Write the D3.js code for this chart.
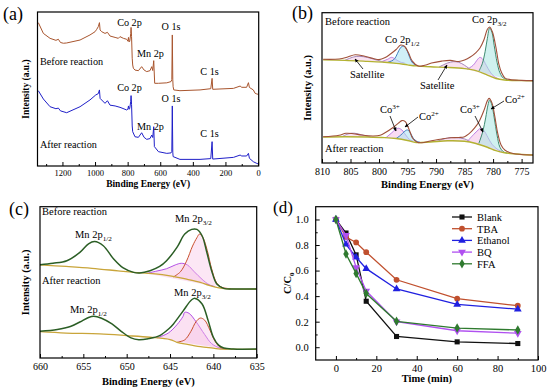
<!DOCTYPE html>
<html>
<head>
<meta charset="utf-8">
<script src="https://cdn.jsdelivr.net/npm/d3@7"></script>
<style>
  body { margin: 0; background: #fff; }
  text { font-family: "Liberation Serif", "Times New Roman", serif; }
</style>
</head>
<body>
<svg id="fig" width="550" height="388"></svg>
<script>
// XPS + quenching figure, four panels

///////////////////////////////////////////////////////////////////////////////
// Data

// (a) survey spectra: [binding energy eV, intensity a.u.]
var surveyBefore = [[1348,93.1],[1317,86.1],[1276,82.9],[1240,81.6],[1225,82.3],[1212,80.2],[1194,79.7],[1174,79.9],
  [1092,81.8],[1031,85.1],[1000,87.2],[990,88.7],[980,90.5],[973,93.1],[969,88.3],[959,87.2],[939,86.1],[924,86.8],
  [908,84.4],[877,83.5],[857,82.9],[847,84.0],[826,82.9],[806,82.3],[798,81.0],[795,83.5],[791,80.5],[787,81.0],
  [781,86.0],[779,90.0],[776,84.0],[772,70.0],[769,65.6],[765,63.5],[755,62.3],[734,61.9],[714,64.5],[699,62.3],
  [683,61.3],[663,61.9],[652,64.5],[646,62.0],[640,68.4],[634,53.7],[611,53.7],[560,54.0],[534,54.8],[529,56.0],
  [526,85.1],[523,56.0],[521,51.5],[517,49.4],[479,48.9],[356,49.4],[290,50.2],[282,56.9],[278,49.8],[151,50.4],
  [110,51.9],[100,51.1],[70,51.1],[59,54.1],[53,51.0],[29,49.4],[18,47.2],[8,46.8],[-2,46.5]];
var surveyAfter = [[1348,48.9],[1317,43.5],[1276,38.5],[1240,37.2],[1225,37.6],[1212,35.8],[1174,34.6],[1092,38.5],
  [1031,42.9],[996,46.1],[980,47.0],[973,49.4],[969,43.9],[939,40.7],[924,42.4],[908,39.5],[877,39.0],[847,38.1],
  [806,36.4],[798,37.0],[795,39.0],[791,36.8],[787,37.5],[781,42.0],[779,45.7],[776,40.0],[772,26.0],[769,22.3],
  [755,19.0],[734,18.6],[714,21.6],[699,18.6],[683,17.3],[663,17.8],[652,20.1],[646,18.5],[640,25.5],[636,12.6],
  [611,9.3],[560,8.2],[534,8.5],[529,9.5],[526,39.0],[523,9.0],[521,6.1],[479,4.3],[356,4.3],[290,4.8],[282,15.8],
  [278,4.5],[151,5.6],[110,7.1],[100,6.5],[70,6.5],[59,8.2],[53,5.0],[29,2.8],[8,1.7],[-2,1.3]];
var surveyTicks = [1200, 1000, 800, 600, 400, 200, 0];

// (b) Co 2p fits
var coEnvBefore = [[809.8,69.0],[807,69.2],[805.5,70.5],[804.2,72.0],[802.5,71.0],[801,69.5],[800,68.8],[799,70.0],
  [798,72.5],[797,75.5],[796.2,78.5],[795.5,77.5],[794.8,73.0],[794.2,68.0],[793.1,64.5],[792,65.0],[790.8,66.5],
  [789,67.8],[787.5,68.3],[786,67.5],[785,68.5],[784,70.5],[783,73.5],[782.3,76.5],[781.6,82.0],[781,89.0],
  [780.6,90.5],[780.1,87.0],[779.5,77.0],[779,66.0],[778.5,60.0],[777.9,56.5],[777,55.5],[775,55.0],[773,54.8]];
var coBgBefore = [[809.8,68.6],[806,68.3],[802,67.6],[799,67.0],[797,66.3],[795,65.3],[793.5,64.6],[791,64.0],
  [788,63.6],[785,62.8],[783,61.5],[781,58.5],[779.5,56.2],[778,55.2],[775,54.8],[773,54.7]];
var co2pHalfII_before = [[798.5,67.0],[797.5,68.5],[797,71.0],[796.5,75.0],[796,77.5],[795.6,77.8],[795.1,75.0],
  [794.6,70.0],[794.1,66.5],[793.5,65.0]];
var co2pHalfIII_before = [[799.5,67.5],[798.5,69.0],[797.8,70.3],[797.1,69.0],[796.3,67.2],[795.5,66.5]];
var co2p3II_before = [[782.5,61.0],[781.9,66.0],[781.4,74.0],[781,83.0],[780.6,89.8],[780.2,87.0],[779.8,78.0],
  [779.3,67.0],[778.8,60.0],[778.2,56.5],[777.5,55.5]];
var co2p3III_before = [[784.5,62.5],[783.5,65.0],[782.7,69.0],[782.3,70.3],[781.8,69.0],[781.2,65.0],[780.5,60.5],
  [779.8,57.5],[779,56.0]];
var coSatA_before = [[806,68.3],[804.5,70.5],[803.5,71.0],[802,70.2],[800.5,68.6],[799,67.0]];
var coSatB_before = [[789.5,63.8],[788,66.5],[787,67.4],[786,67.0],[785,65.0],[784,62.3]];

var coEnvAfter = [[809.8,17.5],[807,18.5],[805.8,19.8],[804.5,19.5],[803,18.6],[801,18.0],[799.8,18.5],[798.8,20.5],
  [797.6,23.5],[796.6,26.5],[796,28.2],[795.4,27.5],[794.7,22.0],[794.1,16.5],[793.3,13.8],[792.5,13.5],[791,14.6],
  [789,16.0],[787.5,16.8],[786,17.0],[785,17.5],[784.2,19.5],[783.2,23.5],[782.4,28.0],[781.6,35.0],[781,41.5],
  [780.7,43.0],[780.2,40.0],[779.7,31.0],[779.2,20.0],[778.6,12.0],[777.9,8.5],[776.5,6.3],[775,5.7],[773,5.3]];
var coBgAfter = [[809.8,17.3],[806,17.5],[802,17.3],[799,16.9],[797,16.3],[795,15.0],[793.5,13.6],[791,14.0],
  [788,14.8],[785,14.5],[783,13.0],[781,10.5],[779.5,8.2],[778,6.8],[775,5.7],[773,5.3]];
var co2pHalfII_after = [[797,16.3],[796.2,18.5],[795.6,20.8],[795,22.0],[794.5,20.0],[794,16.5],[793.4,14.5],[792.8,13.8]];
var co2pHalfIII_after = [[798.8,16.8],[797.8,20.0],[797.2,22.0],[796.6,23.1],[796,22.0],[795.3,18.5],[794.6,15.5],[794,14.5]];
var co2p3II_after = [[782.5,13.0],[781.8,21.0],[781.3,30.0],[780.9,38.5],[780.6,41.9],[780.2,38.5],[779.8,30.0],
  [779.3,18.5],[778.8,10.5],[778.2,7.5],[777.5,6.5]];
var co2p3III_after = [[784.5,14.5],[783.4,19.0],[782.6,22.0],[782.2,23.1],[781.6,21.5],[780.9,17.0],[780.2,12.5],
  [779.3,9.3],[778.4,7.5]];
var coSatA_after = [[806.5,17.5],[805.3,19.5],[804.3,19.8],[803,18.7],[801.5,17.3]];
var coSatB_after = [[790,14.2],[788,16.6],[786.5,16.9],[785,16.0],[784,14.3]];
var coTicks = [810, 805, 800, 795, 790, 785, 780, 775];

// (c) Mn 2p fits
var mnEnvBefore = [[660,61.7],[658.5,62.6],[656.9,64.3],[655.4,69.8],[654.4,75.5],[653.7,77.0],[652.7,74.2],
  [651.5,65.4],[650.4,59.5],[649.2,56.6],[648.5,56.2],[647.3,57.7],[646.2,60.5],[645.4,64.3],[644.2,73.1],
  [643.3,81.9],[642.5,85.0],[641.9,85.0],[641.3,80.8],[640.8,70.9],[640.2,57.7],[639.6,48.9],[638.8,46.0],
  [637.7,45.6],[635,45.6]];
var mnBgBefore = [[660,61.5],[657,60.5],[654,59.3],[651,57.6],[649.2,56.6],[647,55.7],[645,54.3],[643,52.0],
  [641.5,50.0],[640.5,48.0],[639.2,46.2],[638,45.7],[635,45.6]];
var mnRedBefore = [[644.6,53.6],[643.8,57.0],[643.1,64.0],[642.4,74.0],[641.9,79.5],[641.6,81.9],[641.2,79.5],
  [640.7,71.0],[640.2,59.0],[639.6,49.5],[639,46.7],[638,45.8]];
var mnVioBefore = [[647.7,55.9],[646.5,57.5],[645.4,59.0],[644.4,61.5],[643.7,62.6],[643,61.5],[642.2,57.0],
  [641.3,52.0],[640.5,48.5],[639.8,47.2]];

var mnEnvAfter = [[660,17.6],[658,18.8],[656.5,20.8],[655.4,23.8],[654.4,26.8],[653.8,27.6],[652.9,26.3],
  [651.7,22.5],[650.6,17.5],[649.5,13.3],[648.6,12.1],[647.5,12.8],[646.2,14.8],[645.1,19.5],[644.6,22.5],
  [643.5,31.0],[642.5,38.5],[642.1,39.4],[641.3,35.7],[640.6,24.7],[640,13.7],[639.4,8.5],[638.8,6.6],
  [637.7,5.9],[635,5.9]];
var mnBgAfter = [[660,17.4],[657,16.5],[653.1,15.9],[650,14.8],[647.3,13.7],[645,12.2],[644.2,10.4],[643,9.0],
  [641.5,7.5],[640,6.5],[639.2,5.9],[638,5.8],[635,5.7]];
var mnVioAfter = [[646.5,13.3],[645.2,16.5],[644.2,22.0],[643.5,27.5],[643.3,30.2],[642.8,29.5],[642,24.0],
  [641,15.5],[640.2,9.5],[639.2,6.5],[638.5,5.9]];
var mnRedAfter = [[644.2,10.4],[643.3,12.0],[642.6,17.5],[642,24.0],[641.5,26.4],[641,25.0],[640.4,18.5],
  [639.8,11.0],[639.2,7.0],[638.5,5.9]];
var mnTicks = [660, 655, 650, 645, 640, 635];

// (d) quenching tests
var timeMin = [0, 5, 10, 15, 30, 60, 90];
var scavengers = ["Blank", "TBA", "Ethanol", "BQ", "FFA"];
var blank   = [1.0, 0.894, 0.723, 0.36, 0.084, 0.042, 0.029];
var tba     = [1.0, 0.863, 0.82, 0.744, 0.528, 0.38, 0.325];
var ethanol = [1.0, 0.805, 0.704, 0.615, 0.456, 0.335, 0.298];
var bq      = [1.0, 0.876, 0.625, 0.44, 0.20, 0.129, 0.11];
var ffa     = [1.0, 0.73, 0.578, 0.42, 0.203, 0.15, 0.135];
var timeTicks = [0, 20, 40, 60, 80, 100];
var ratioTicks = [0.0, 0.2, 0.4, 0.6, 0.8, 1.0];

///////////////////////////////////////////////////////////////////////////////
// Helpers

var svg = d3.select("#fig");
var defs = svg.append("defs");

defs.append("marker")
  .attr("id", "arrow").attr("viewBox", "0 0 8 8")
  .attr("refX", 7).attr("refY", 4)
  .attr("markerWidth", 5).attr("markerHeight", 5)
  .attr("orient", "auto")
  .append("path").attr("d", "M0,0.5L8,4L0,7.5Z").attr("fill", "#000");

var makePanel = function (p) {
  var w = p.right - p.left, h = p.bottom - p.top;
  var g = svg.append("g").attr("transform", "translate(" + p.left + "," + p.top + ")");
  var x = d3.scaleLinear().domain(p.xDomain).range([0, w]);
  var y = d3.scaleLinear().domain(p.yDomain).range([h, 0]);

  defs.append("clipPath").attr("id", "clip-" + p.name)
    .append("rect").attr("width", w).attr("height", h);
  var plot = g.append("g").attr("clip-path", "url(#clip-" + p.name + ")");

  var xa = g.append("g").attr("transform", "translate(0," + h + ")")
    .call(d3.axisBottom(x).tickValues(p.xTicks).tickFormat(d3.format("d"))
      .tickSizeInner(-4).tickSizeOuter(0).tickPadding(p.pad));
  xa.select(".domain").remove();
  xa.selectAll("text").attr("font-size", p.tickFont).attr("fill", "#000");
  if (p.xMinor) {
    g.append("g").attr("transform", "translate(0," + h + ")")
      .call(d3.axisBottom(x).tickValues(p.xMinor).tickFormat("").tickSizeInner(-2).tickSizeOuter(0))
      .select(".domain").remove();
  }

  if (p.yTicks) {
    var ya = g.append("g")
      .call(d3.axisLeft(y).tickValues(p.yTicks).tickFormat(d3.format(".1f"))
        .tickSizeInner(-4).tickSizeOuter(0).tickPadding(p.pad + 2));
    ya.select(".domain").remove();
    ya.selectAll("text").attr("font-size", p.tickFont).attr("fill", "#000");
    g.append("g")
      .call(d3.axisLeft(y).tickValues(p.yMinor).tickFormat("").tickSizeInner(-2).tickSizeOuter(0))
      .select(".domain").remove();
  }

  g.append("rect").attr("width", w).attr("height", h)
    .attr("fill", "none").attr("stroke", "#000").attr("stroke-width", 1.2);

  g.append("text").attr("x", w / 2).attr("y", h + p.xTitleDy)
    .attr("text-anchor", "middle").attr("font-size", p.titleFont).attr("font-weight", "bold")
    .text(p.xTitle);

  var yt = g.append("text")
    .attr("transform", "translate(" + p.yTitleDx + "," + (h / 2) + ") rotate(-90)")
    .attr("text-anchor", "middle").attr("font-size", p.titleFont).attr("font-weight", "bold");
  if (p.yTitle === "C/C0") {
    yt.append("tspan").text("C/C");
    yt.append("tspan").attr("font-size", p.titleFont * 0.65).attr("dy", 3).text("0");
  } else {
    yt.text(p.yTitle);
  }

  svg.append("text").attr("x", p.tagX).attr("y", p.tagY)
    .attr("font-size", p.tagFont || 18).text(p.tag);

  return { g: g, plot: plot, x: x, y: y, w: w, h: h };
};

var drawCurve = function (panel, data, color, width, curve, fill) {
  var line = d3.line()
    .x(function (d) { return panel.x(d[0]); })
    .y(function (d) { return panel.y(d[1]); })
    .curve(curve || d3.curveCatmullRom);
  if (fill) {
    panel.plot.append("path").attr("d", line(data) + "Z")
      .attr("fill", fill).attr("stroke", "none");
  }
  panel.plot.append("path").attr("d", line(data))
    .attr("fill", "none").attr("stroke", color).attr("stroke-width", width)
    .attr("stroke-linejoin", "round");
};

// label with optional sub/superscript piece
var label = function (g, x, y, size, main, extra, kind) {
  var t = g.append("text").attr("x", x).attr("y", y).attr("font-size", size);
  t.append("tspan").text(main);
  if (extra) {
    t.append("tspan").attr("font-size", size * 0.68)
      .attr("dy", kind === "sup" ? -size * 0.38 : size * 0.25).text(extra);
  }
  return t;
};

var arrow = function (g, x1, y1, x2, y2) {
  g.append("line").attr("x1", x1).attr("y1", y1).attr("x2", x2).attr("y2", y2)
    .attr("stroke", "#000").attr("stroke-width", 0.8).attr("marker-end", "url(#arrow)");
};

///////////////////////////////////////////////////////////////////////////////
// (a) survey

var pa = makePanel({
  name: "a", left: 37.5, top: 12, right: 258.7, bottom: 166,
  xDomain: [1353, -4], yDomain: [0, 100],
  xTicks: surveyTicks, xMinor: [1300, 1100, 900, 700, 500, 300, 100],
  pad: 4, tickFont: 8.5, titleFont: 9.5, xTitle: "Binding Energy (eV)", xTitleDy: 21,
  yTitle: "Intensity (a.u.)", yTitleDx: -9, tag: "(a)", tagX: 3, tagY: 20
});
drawCurve(pa, surveyBefore, "#a8552e", 1, d3.curveLinear);
drawCurve(pa, surveyAfter, "#1f1fc8", 1, d3.curveLinear);

[["Co 2p", 129.5, 26], ["O 1s", 171, 30], ["Mn 2p", 150.5, 57], ["C 1s", 209.5, 75],
 ["Co 2p", 129.5, 91], ["O 1s", 171, 102], ["Mn 2p", 150.5, 130], ["C 1s", 209.5, 137]]
  .forEach(function (l) {
    svg.append("text").attr("x", l[1]).attr("y", l[2]).attr("text-anchor", "middle")
      .attr("font-size", 10.2).text(l[0]);
  });
svg.append("text").attr("x", 40).attr("y", 65).attr("font-size", 10.2).text("Before reaction");
svg.append("text").attr("x", 40).attr("y", 148).attr("font-size", 10.2).text("After reaction");

///////////////////////////////////////////////////////////////////////////////
// (b) Co 2p

var pb = makePanel({
  name: "b", left: 322, top: 12.7, right: 533, bottom: 163,
  xDomain: [810, 773], yDomain: [0, 100],
  xTicks: coTicks, xMinor: [807.5, 802.5, 797.5, 792.5, 787.5, 782.5, 777.5],
  pad: 5, tickFont: 10, titleFont: 10.5, xTitle: "Binding Energy (eV)", xTitleDy: 25,
  yTitle: "Intensity (a.u.)", yTitleDx: -11.5, tag: "(b)", tagX: 292, tagY: 19
});

[[coBgBefore, coEnvBefore, co2pHalfII_before, co2pHalfIII_before, co2p3II_before, co2p3III_before, coSatA_before, coSatB_before],
 [coBgAfter, coEnvAfter, co2pHalfII_after, co2pHalfIII_after, co2p3II_after, co2p3III_after, coSatA_after, coSatB_after]]
  .forEach(function (s) {
    drawCurve(pb, s[6], "#9a7ab0", 0.9, null, "rgba(245,190,225,0.45)");
    drawCurve(pb, s[7], "#9a7ab0", 0.9, null, "rgba(245,190,225,0.45)");
    drawCurve(pb, s[3], "#b673e0", 0.9, null, "rgba(245,185,230,0.5)");
    drawCurve(pb, s[5], "#b673e0", 0.9, null, "rgba(245,185,230,0.5)");
    drawCurve(pb, s[2], "#3f7fc0", 1, null, "rgba(170,225,240,0.55)");
    drawCurve(pb, s[4], "#3d8a70", 1, null, "rgba(170,230,225,0.55)");
    drawCurve(pb, s[0], "#b3b232", 1.4);
    drawCurve(pb, s[1], "#a0503a", 1.1);
  });

svg.append("text").attr("x", 325).attr("y", 25).attr("font-size", 10.5).text("Before reaction");
svg.append("text").attr("x", 325).attr("y", 152).attr("font-size", 10.5).text("After reaction");
label(svg, 385, 43, 10.5, "Co 2p", "1/2", "sub");
label(svg, 472, 23, 10.5, "Co 2p", "3/2", "sub");
svg.append("text").attr("x", 350).attr("y", 78).attr("font-size", 10.5).text("Satellite");
svg.append("text").attr("x", 420).attr("y", 89).attr("font-size", 10.5).text("Satellite");
arrow(svg, 363, 69, 355, 59);
arrow(svg, 438, 80, 447, 65);
label(svg, 380, 113, 10.5, "Co", "3+", "sup");
label(svg, 419, 120, 10.5, "Co", "2+", "sup");
label(svg, 460, 113, 10.5, "Co", "3+", "sup");
label(svg, 505, 103, 10.5, "Co", "2+", "sup");
arrow(svg, 390, 116, 396, 131);
arrow(svg, 418, 117, 405, 127);
arrow(svg, 475, 116, 483, 132);
arrow(svg, 504, 101, 491, 109);

///////////////////////////////////////////////////////////////////////////////
// (c) Mn 2p

var pc = makePanel({
  name: "c", left: 40, top: 206.7, right: 256.7, bottom: 358,
  xDomain: [660, 635], yDomain: [0, 100],
  xTicks: mnTicks, xMinor: [657.5, 652.5, 647.5, 642.5, 637.5],
  pad: 5, tickFont: 10, titleFont: 10.5, xTitle: "Binding Energy (eV)", xTitleDy: 27,
  yTitle: "Intensity (a.u.)", yTitleDx: -11.5, tag: "(c)", tagX: 9, tagY: 215
});

[[mnBgBefore, mnEnvBefore, mnRedBefore, mnVioBefore], [mnBgAfter, mnEnvAfter, mnRedAfter, mnVioAfter]]
  .forEach(function (s) {
    drawCurve(pc, s[3], "#b450e6", 1, null, "rgba(248,195,230,0.5)");
    drawCurve(pc, s[2], "#c8502d", 1, null, "rgba(248,195,230,0.4)");
    drawCurve(pc, s[0], "#c9a53a", 1.3);
    drawCurve(pc, s[1], "#2b5e25", 1.5);
  });

svg.append("text").attr("x", 42).attr("y", 215).attr("font-size", 10.5).text("Before reaction");
svg.append("text").attr("x", 42).attr("y", 284).attr("font-size", 10.5).text("After reaction");
label(svg, 75, 238, 10.5, "Mn 2p", "1/2", "sub");
label(svg, 175, 222, 10.5, "Mn 2p", "3/2", "sub");
label(svg, 70, 313, 10.5, "Mn 2p", "1/2", "sub");
label(svg, 174, 296, 10.5, "Mn 2p", "3/2", "sub");

///////////////////////////////////////////////////////////////////////////////
// (d) quenching

var pd = makePanel({
  name: "d", left: 315.7, top: 206.7, right: 538, bottom: 360,
  xDomain: [-10, 100], yDomain: [-0.1, 1.1],
  xTicks: timeTicks, xMinor: [10, 30, 50, 70, 90],
  yTicks: ratioTicks, yMinor: [0.1, 0.3, 0.5, 0.7, 0.9],
  pad: 5, tickFont: 10.5, titleFont: 10.5, xTitle: "Time (min)", xTitleDy: 22,
  yTitle: "C/C0", yTitleDx: -25, tag: "(d)", tagX: 273, tagY: 213, tagFont: 17
});

var series = [blank, tba, ethanol, bq, ffa];
var colors = ["#111111", "#c0502e", "#2020e0", "#b050f0", "#2f7a2f"];
var shapes = [d3.symbolSquare, d3.symbolCircle, d3.symbolTriangle, d3.symbolTriangle, d3.symbolDiamond];
var flips = [0, 0, 0, 180, 0];

var ln = d3.line()
  .x(function (d, i) { return pd.x(timeMin[i]); })
  .y(function (d) { return pd.y(d); });

series.forEach(function (vals, k) {
  pd.g.append("path").attr("d", ln(vals))
    .attr("fill", "none").attr("stroke", colors[k]).attr("stroke-width", 1.3);
  pd.g.selectAll(null).data(vals).enter().append("path")
    .attr("d", d3.symbol().type(shapes[k]).size(26))
    .attr("transform", function (d, i) {
      return "translate(" + pd.x(timeMin[i]) + "," + pd.y(d) + ") rotate(" + flips[k] + ")";
    })
    .attr("fill", colors[k]);
});

// legend
var leg = svg.append("g").attr("transform", "translate(452,217)");
scavengers.forEach(function (name, k) {
  var row = leg.append("g").attr("transform", "translate(0," + (k * 11.7) + ")");
  row.append("line").attr("x1", 0).attr("x2", 20).attr("stroke", colors[k]).attr("stroke-width", 1.3);
  row.append("path").attr("d", d3.symbol().type(shapes[k]).size(26))
    .attr("transform", "translate(10,0) rotate(" + flips[k] + ")").attr("fill", colors[k]);
  row.append("text").attr("x", 25).attr("y", 3.8).attr("font-size", 10.5).text(name);
});
</script>
</body>
</html>
